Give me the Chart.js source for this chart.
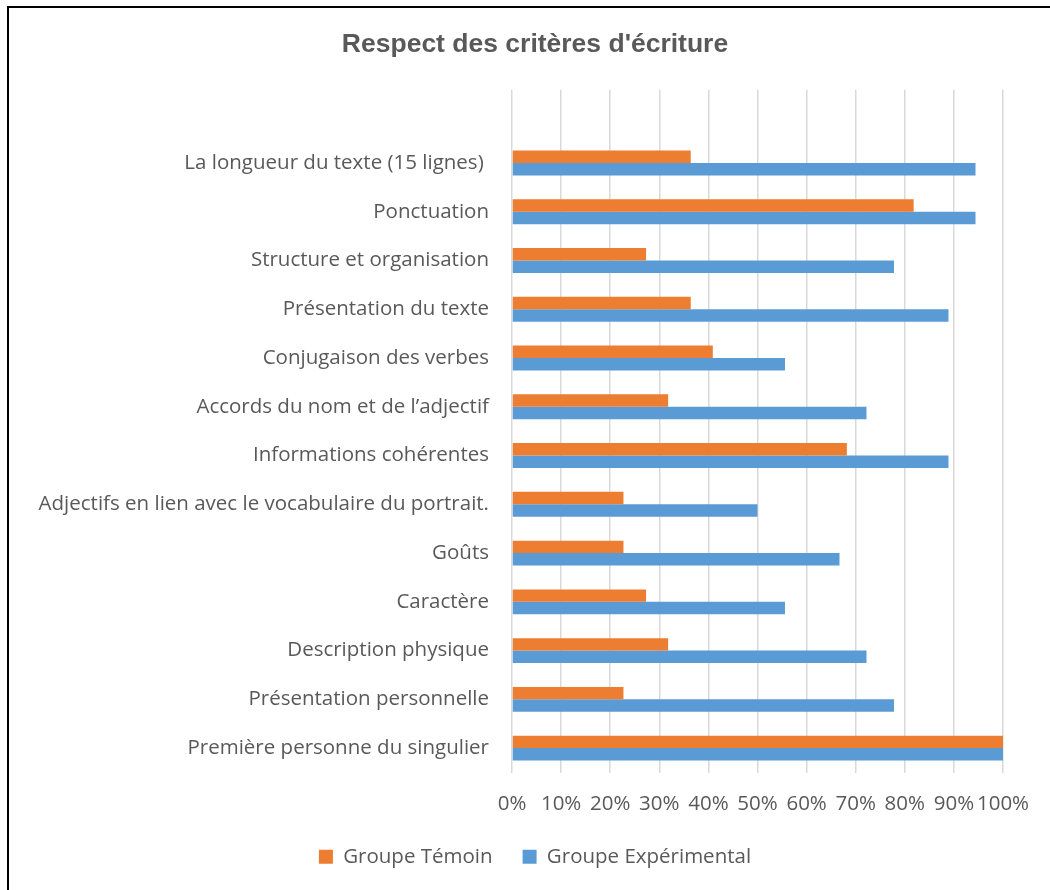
<!DOCTYPE html>
<html lang="fr">
<head>
<meta charset="utf-8">
<title>Respect des critères d'écriture</title>
<script src="https://cdn.jsdelivr.net/npm/chart.js@4.4.1/dist/chart.umd.min.js"></script>
<style>
  html, body { margin: 0; padding: 0; overflow: hidden; background: #fff; }
  #frame { position: absolute; left: 7px; top: 6px; width: 1100px; height: 950px; border: 2px solid #000; }
  #wrap { position: absolute; left: 0; top: 0; width: 1050px; height: 890px; }
</style>
</head>
<body>
<div id="frame"></div>
<div id="wrap"><canvas id="chart"></canvas></div>
<script>
// first row is empty in the original sheet
const categories = [
  "",
  "La longueur du texte (15 lignes) ",
  "Ponctuation",
  "Structure et organisation",
  "Présentation du texte",
  "Conjugaison des verbes",
  "Accords du nom et de l’adjectif",
  "Informations cohérentes",
  "Adjectifs en lien avec le vocabulaire du portrait.",
  "Goûts",
  "Caractère",
  "Description physique",
  "Présentation personnelle",
  "Première personne du singulier"
];
const groupeTemoin = [null, 36.4, 81.8, 27.3, 36.4, 40.9, 31.8, 68.2, 22.7, 22.7, 27.3, 31.8, 22.7, 100];
const groupeExperimental = [null, 94.4, 94.4, 77.8, 88.9, 55.6, 72.2, 88.9, 50, 66.7, 55.6, 72.2, 77.8, 100];
const xTicks = [0, 10, 20, 30, 40, 50, 60, 70, 80, 90, 100];

const textColor = "#595959";
const labelFont = { family: "Open Sans", size: 20.5 };

const chart = new Chart(document.getElementById("chart"), {
  type: "bar",
  data: {
    labels: categories,
    datasets: [
      {
        label: "Groupe Témoin",
        data: groupeTemoin,
        backgroundColor: "#ED7D31",
        barPercentage: 1,
        categoryPercentage: 0.51,
      },
      {
        label: "Groupe Expérimental",
        data: groupeExperimental,
        backgroundColor: "#5B9BD5",
        barPercentage: 1,
        categoryPercentage: 0.51,
      },
    ],
  },
  options: {
    indexAxis: "y",
    responsive: true,
    maintainAspectRatio: false,
    animation: false,
    layout: { padding: { left: 20, right: 0, top: 0, bottom: 13 } },
    plugins: {
      title: {
        display: true,
        text: "Respect des critères d'écriture",
        color: textColor,
        font: { family: "Liberation Sans", size: 26.5, weight: "bold", lineHeight: 1.2 },
        padding: { top: 29, bottom: 29 },
      },
      legend: {
        position: "bottom",
        labels: {
          color: textColor,
          font: labelFont,
          boxWidth: 14,
          boxHeight: 14,
          padding: 30,
        },
      },
      tooltip: { enabled: false },
    },
    scales: {
      x: {
        min: 0,
        max: 100,
        afterBuildTicks: (scale) => {
          scale.ticks = xTicks.map((v) => ({ value: v }));
        },
        afterFit: (scale) => {
          scale.height = 44;
        },
        grid: { color: "#D9D9D9", lineWidth: 1.5, drawTicks: false },
        border: { display: false },
        ticks: {
          color: textColor,
          font: labelFont,
          padding: 19,
          autoSkip: false,
          maxRotation: 0,
          callback: (v) => v + "%",
        },
      },
      y: {
        grid: { display: false },
        border: { display: false },
        afterFit: (scale) => {
          scale.width = 492;
        },
        ticks: {
          color: textColor,
          font: labelFont,
          padding: 15,
          autoSkip: false,
        },
      },
      yRight: {
        type: "category",
        position: "right",
        grid: { display: false },
        border: { display: false },
        ticks: { display: false },
        afterFit: (scale) => {
          scale.width = 47;
        },
      },
    },
  },
});
</script>
</body>
</html>
